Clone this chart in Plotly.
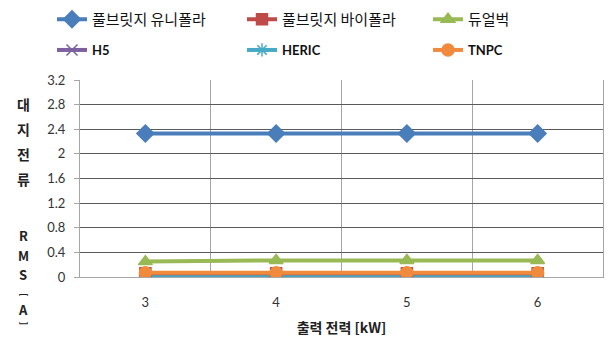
import plotly.graph_objects as go

# ---- data ----
x_power = [3, 4, 5, 6]
fb_unipolar = [2.33, 2.33, 2.33, 2.33]
fb_bipolar = [0.06, 0.06, 0.06, 0.06]
dual_buck = [0.25, 0.27, 0.27, 0.27]
h5 = [0.01, 0.01, 0.01, 0.01]
heric = [0.02, 0.02, 0.02, 0.02]
tnpc = [0.07, 0.07, 0.07, 0.07]

y_ticks = [0, 0.4, 0.8, 1.2, 1.6, 2, 2.4, 2.8, 3.2]
y_ticktext = ["0", "0.4", "0.8", "1.2", "1.6", "2", "2.4", "2.8", "3.2"]
x_ticktext = ["3", "4", "5", "6"]
x_title = "출력 전력 [kW]"
y_title_chars = ["대", "지", "전", "류", "R", "M", "S", "﹇", "A", "﹈"]
y_title_px = [103, 128, 153, 178, 235, 255, 274, 292, 310, 327]
y_title_sizes = [14, 14, 14, 14, 13, 13, 13, 9, 13, 9]

names = ["풀브릿지 유니폴라", "풀브릿지 바이폴라", "듀얼벅", "H5", "HERIC", "TNPC"]
colors = ["#4A7EBB", "#BE4B48", "#98B954", "#7D60A0", "#46AAC5", "#F08A3C"]
symbols = ["diamond", "square", "triangle-up", "x-thin-open", "asterisk-open", "circle"]
msizes = [13, 11, 12, 11, 11, 12]
series = [fb_unipolar, fb_bipolar, dual_buck, h5, heric, tnpc]

W, H = 608, 344
L, R, T, B = 80, 5, 79, 67
pw, ph = W - L - R, H - T - B

# legend placement (pixels from top-left): left edge, top edge
leg_left = [52, 242, 428, 52, 242, 428]
leg_top = [3, 3, 3, 35, 35, 35]

fig = go.Figure()
order = [3, 4, 0, 1, 2, 5]
legend_layout = {}
for i in range(6):
    key = "legend" if i == 0 else "legend%d" % (i + 1)
    fig.add_trace(go.Scatter(
        x=x_power, y=series[i], name=names[i], mode="lines+markers",
        line=dict(color=colors[i], width=4),
        marker=dict(symbol=symbols[i], size=msizes[i], color=colors[i],
                    line=dict(color=colors[i], width=1.5)),
        legend=key,
    ))
    korean = i < 3
    legend_layout[key] = dict(
        orientation="h", x=(leg_left[i] - L) / pw, y=(H - B - leg_top[i]) / ph,
        xanchor="left", yanchor="top", bgcolor="rgba(0,0,0,0)",
        itemwidth=30,
        font=dict(family="Noto Sans CJK KR" if korean else "Lato",
                  size=15 if korean else 13, color="#111",
                  weight="normal" if korean else "bold"),
    )
fig.data = tuple(fig.data[k] for k in order)

annotations = []
for ch, py, fs in zip(y_title_chars, y_title_px, y_title_sizes):
    annotations.append(dict(
        text=ch, xref="paper", yref="paper", x=(23 - L) / pw, y=(H - B - py) / ph,
        showarrow=False, xanchor="center", yanchor="middle", borderpad=0,
        font=dict(family="Noto Sans CJK KR", size=fs, color="#222", weight="bold"),
    ))

fig.update_layout(
    width=W, height=H,
    margin=dict(l=L, r=R, t=T, b=B),
    paper_bgcolor="white", plot_bgcolor="white",
    showlegend=True,
    annotations=annotations,
    xaxis=dict(
        range=[2.5, 6.5], tickvals=x_power, ticktext=x_ticktext,
        showgrid=False, zeroline=False,
        showline=True, linecolor="#A6A6A6", linewidth=1,
        ticks="", ticklabelstandoff=13,
        tickfont=dict(family="Lato", size=13, color="#333"),
        minor=dict(tickvals=[3.5, 4.5, 5.5], showgrid=True, gridcolor="#A6A6A6", gridwidth=1),
        title=dict(text=x_title, standoff=14,
                   font=dict(family="Noto Sans CJK KR", size=14, color="#222", weight="bold")),
    ),
    yaxis=dict(
        range=[0, 3.2], tickvals=y_ticks, ticktext=y_ticktext,
        showgrid=True, gridcolor="#5A5A5A", gridwidth=1, zeroline=False,
        showline=True, linecolor="#A6A6A6", linewidth=1, mirror=True,
        ticks="outside", ticklen=5, tickcolor="#A6A6A6",
        ticklabelstandoff=6,
        tickfont=dict(family="Lato", size=13, color="#333"),
    ),
    **legend_layout,
)

fig.write_html("out.html")
